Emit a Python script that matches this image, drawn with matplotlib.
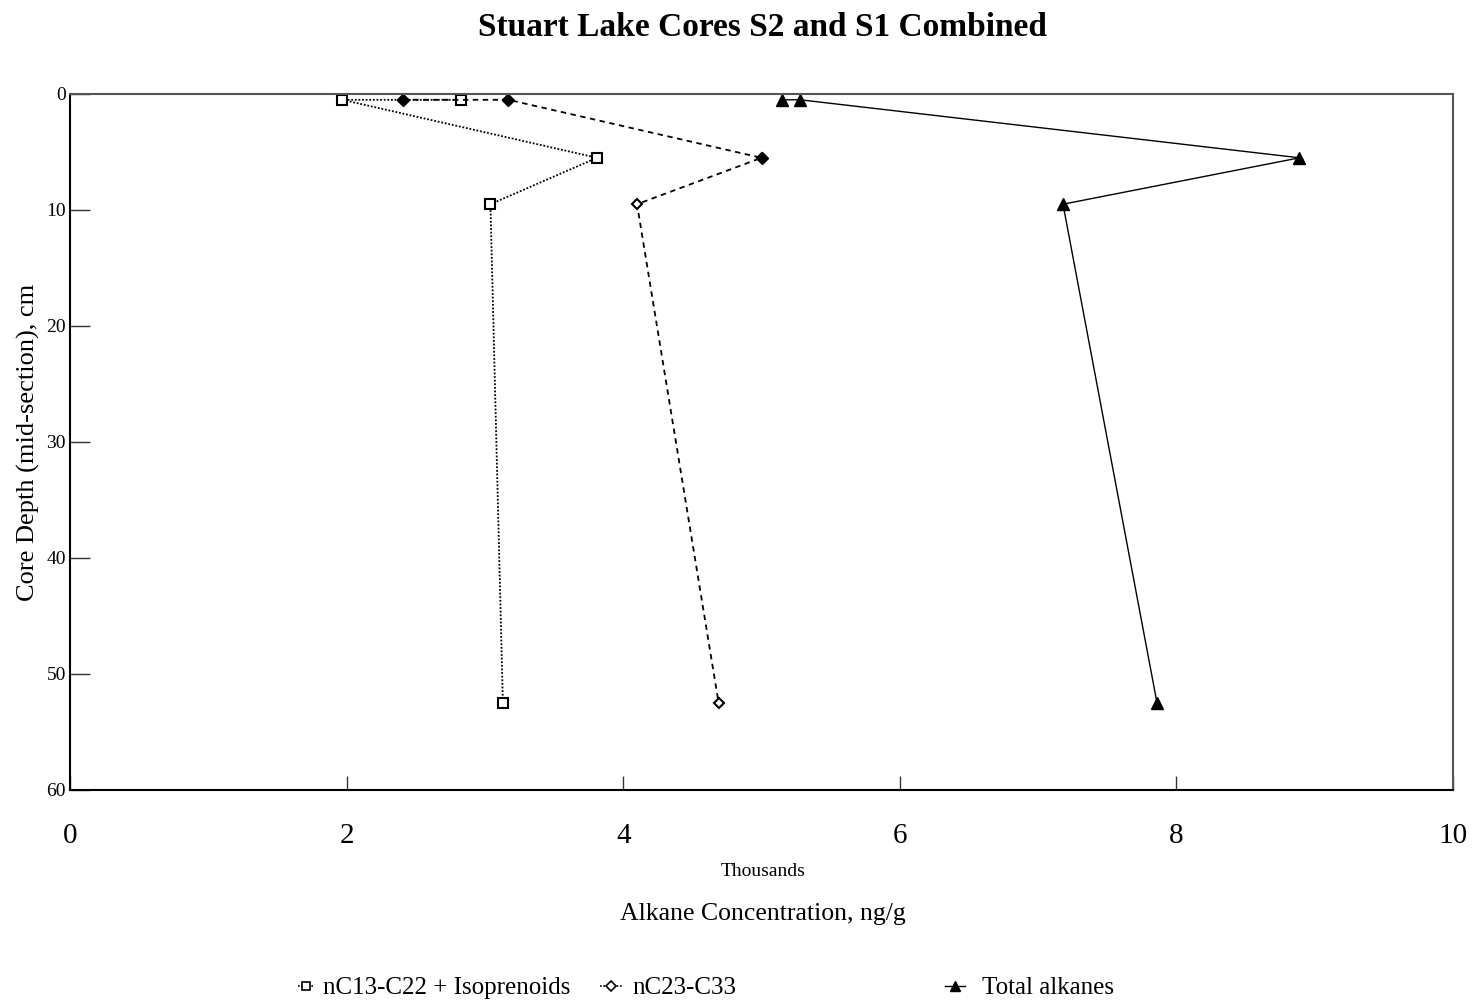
import matplotlib
matplotlib.use("Agg")
import matplotlib.pyplot as plt
from matplotlib.lines import Line2D

plt.rcParams['font.family'] = ['Liberation Serif', 'DejaVu Serif']

# Data (concentration in thousands ng/g, depth in cm)
depth = [0.5, 0.5, 5.5, 9.5, 52.5]
short_chain = [2.83, 1.97, 3.81, 3.04, 3.13]      # nC13-C22 + Isoprenoids
long_chain = [2.41, 3.17, 5.00, 4.10, 4.69]       # nC23-C33
total = [5.15, 5.28, 8.89, 7.18, 7.86]            # Total alkanes

series_names = ["nC13-C22 + Isoprenoids", "nC23-C33", "Total alkanes"]
x_ticks = [0, 2, 4, 6, 8, 10]
y_ticks = [0, 10, 20, 30, 40, 50, 60]

fig = plt.figure(figsize=(14.77, 10.07), dpi=100)
ax = fig.add_axes([70/1477, 1-790/1007, (1453-70)/1477, (790-94)/1007])

ax.plot(short_chain, depth, color='black', linestyle=(0, (1, 1)), linewidth=1.3,
        marker='s', markersize=7, markerfacecolor='white', markeredgecolor='black',
        markeredgewidth=1.5)
ax.plot(long_chain, depth, color='black', linestyle=(0, (3, 2.5)), linewidth=1.3,
        marker='D', markersize=5.5, markerfacecolor='white', markeredgecolor='black',
        markeredgewidth=1.5)
ax.plot(long_chain[:3], depth[:3], linestyle='none', marker='D', markersize=6,
        color='black')
ax.plot(total, depth, color='black', linestyle='-', linewidth=1.0,
        marker='^', markersize=8, markerfacecolor='black', markeredgecolor='black')

ax.set_xlim(0, 10)
ax.set_ylim(60, 0)
ax.set_xticks(x_ticks)
ax.set_yticks(y_ticks)
ax.tick_params(axis='x', direction='in', length=10, width=1, labelsize=21, pad=24,
               color='#333333')
ax.tick_params(axis='y', direction='in', length=14.5, width=1, labelsize=14, pad=3,
               color='#333333')
ax.spines['left'].set_color('black')
ax.spines['bottom'].set_color('black')
ax.spines['top'].set_color('#555555')
ax.spines['right'].set_color('#555555')
for s in ax.spines.values():
    s.set_linewidth(1.5)

ax.set_ylabel("Core Depth (mid-section), cm", fontsize=19)
ax.yaxis.set_label_coords(-30/1383, 0.5)
fig.text(763/1477, 1-872/1007, "Thousands", ha='center', va='center', fontsize=14)
fig.text(763/1477, 1-914/1007, "Alkane Concentration, ng/g", ha='center', va='center', fontsize=18.5)
fig.text(763/1477, 1-28/1007, "Stuart Lake Cores S2 and S1 Combined", ha='center',
         va='center', fontsize=24, fontweight='bold')

handles = [
    Line2D([], [], color='black', linestyle=(0, (1, 1)), linewidth=1.2, marker='s',
           markersize=6, markerfacecolor='white', markeredgewidth=1.2),
    Line2D([], [], color='black', linestyle=(0, (1, 1)), linewidth=1.2, marker='D',
           markersize=5, markerfacecolor='white', markeredgewidth=1.2),
    Line2D([], [], color='black', linestyle='-', linewidth=1.0, marker='^',
           markersize=7, markerfacecolor='black'),
]
xpos = [298, 600, 945]
hlen = [0.6, 0.9, 0.8]
tpad = [0.4, 0.4, 0.68]
for h, name, xp, hl, tp in zip(handles, series_names, xpos, hlen, tpad):
    fig.legend([h], [name], loc='center left', bbox_to_anchor=(xp/1477, 1-988/1007),
               frameon=False, fontsize=18, handlelength=hl, handletextpad=tp,
               borderpad=0, borderaxespad=0)

fig.savefig("out.png", dpi=100)
